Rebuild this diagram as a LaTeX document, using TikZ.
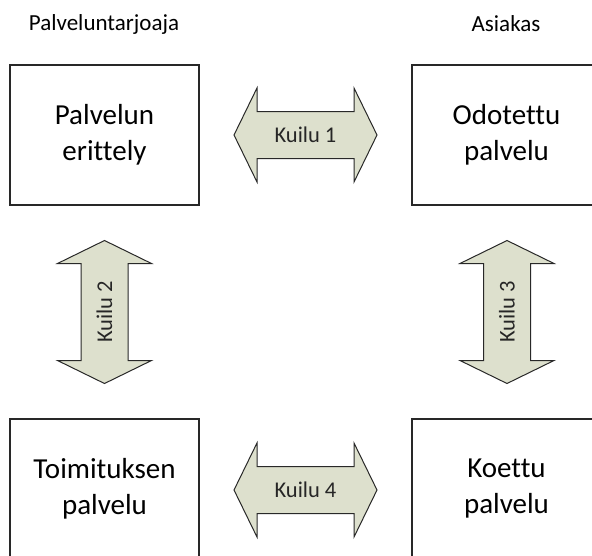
\documentclass[tikz,border=0pt]{standalone}
\usepackage{fontspec}
\setmainfont{Carlito}[Ligatures=NoCommon]
\definecolor{gapfill}{RGB}{221,224,205}
\definecolor{linegray}{RGB}{40,40,40}
\tikzset{
  x=1pt, y=-1pt,
  boxnode/.style={draw=linegray, line width=1.2pt, minimum width=189pt, minimum height=140pt, inner sep=0pt, align=center, font=\fontsize{29}{36}\selectfont},
  headnode/.style={font=\fontsize{23}{27}\selectfont, inner sep=0pt},
  gaplabel/.style={font=\fontsize{22.5}{27}\selectfont, inner sep=0pt, text=black!85},
  gaparrow/.pic={\draw[draw=linegray, line width=1pt, fill=gapfill, line join=miter]
    (-71.5,0) -- (-48.5,-47) -- (-48.5,-23.5) -- (48.5,-23.5) -- (48.5,-47) -- (71.5,0)
    -- (48.5,47) -- (48.5,23.5) -- (-48.5,23.5) -- (-48.5,47) -- cycle;}
}
\begin{document}
\begin{tikzpicture}
\useasboundingbox (0,0) rectangle (592,555);
\begin{scope}
\clip (0,0) rectangle (592,555);
\node[headnode] (hp) at (104,24) {Palveluntarjoaja};
\node[headnode] (ha) at (506,24) {Asiakas};
\node[boxnode] (spec) at (104.5,135) {Palvelun\\erittely};
\node[boxnode] (expect) at (506.5,135) {Odotettu\\palvelu};
\node[boxnode] (deliv) at (104.5,489) {Toimituksen\\palvelu};
\node[boxnode] (exper) at (506.5,489) {Koettu\\palvelu};
\pic at (305.5,135) {gaparrow};
\node[gaplabel] (k1) at (305.5,135) {Kuilu 1};
\pic[rotate=90] at (104.5,312) {gaparrow};
\node[gaplabel, rotate=90] (k2) at (104.5,312) {Kuilu 2};
\pic[rotate=90] at (507,312) {gaparrow};
\node[gaplabel, rotate=90] (k3) at (507,312) {Kuilu 3};
\pic at (305.5,490) {gaparrow};
\node[gaplabel] (k4) at (305.5,490) {Kuilu 4};
\end{scope}
\end{tikzpicture}
\end{document}
